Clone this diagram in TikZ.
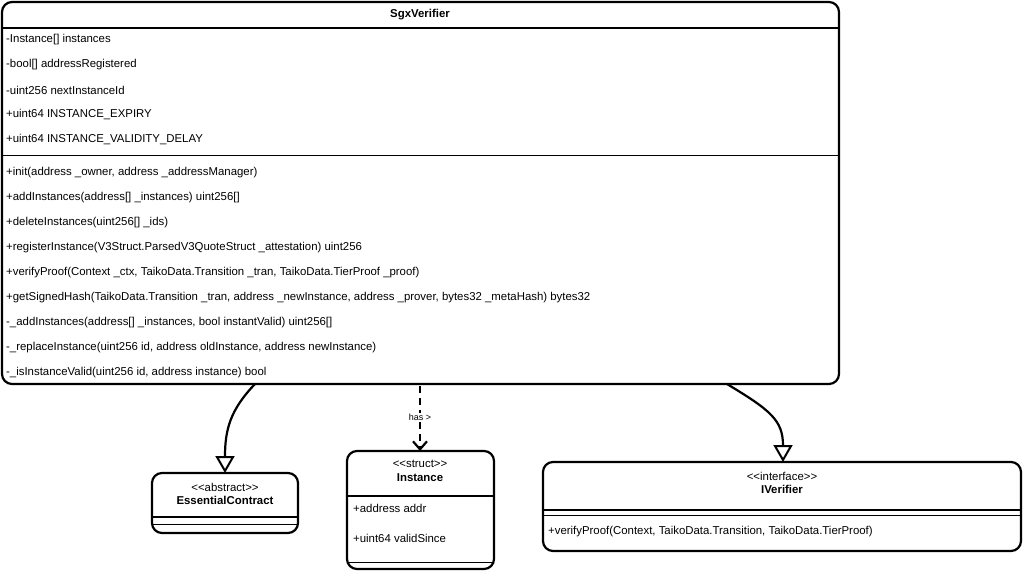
\documentclass[tikz,border=0pt]{standalone}
\usepackage{fontspec}
\setmainfont{Liberation Sans}[Ligatures=NoCommon]
\usetikzlibrary{arrows.meta}
\newcommand{\stL}{\mbox{<}\kern0pt\mbox{<}}
\newcommand{\stR}{\mbox{>}\kern0pt\mbox{>}}
\begin{document}
\begin{tikzpicture}[x=1pt,y=-1pt,
 box/.style={draw,line width=2.2pt,rounded corners=10pt},
 sep/.style={line width=2pt},
 thin/.style={line width=0.8pt},
 t/.style={anchor=west,inner sep=0pt,font=\fontsize{11.4}{13.5}\selectfont},
 c/.style={align=center,inner sep=0pt,font=\fontsize{11.4}{13.5}\selectfont},
 inh/.style={line width=2.2pt,-{Triangle[open,length=17pt,width=19pt,line width=2pt]}},
 dep/.style={line width=2.2pt,dashed,dash pattern=on 7pt off 5pt,-{Straight Barb[length=8pt,width=14pt,line width=2.2pt]}}]
\useasboundingbox (0,0) rectangle (1023,572);
% main
\draw[box] (2,2) rectangle (839,384);
\coordinate (m1) at (255,384);
\coordinate (m2) at (420,386);
\coordinate (m3) at (727,384);
\draw[sep] (2,28) -- (839,28);
\draw[thin] (2,155) -- (839,155);
\node[c,font=\fontsize{11.4}{13.5}\selectfont\bfseries] (title) at (420,15) {SgxVerifier};
\node[t] (a1) at (6,40) {-Instance[] instances};
\node[t] (a2) at (6,65) {-bool[] addressRegistered};
\node[t] (a3) at (6,90) {-uint256 nextInstanceId};
\node[t] (a4) at (6,115) {+uint64 INSTANCE\_EXPIRY};
\node[t] (a5) at (6,140) {+uint64 INSTANCE\_VALIDITY\_DELAY};
\node[t] (f1) at (6,173) {+init(address \_owner, address \_addressManager)};
\node[t] (f2) at (6,198) {+addInstances(address[] \_instances) uint256[]};
\node[t] (f3) at (6,223) {+deleteInstances(uint256[] \_ids)};
\node[t] (f4) at (6,248) {+registerInstance(V3Struct.ParsedV3QuoteStruct \_attestation) uint256};
\node[t] (f5) at (6,273) {+verifyProof(Context \_ctx, TaikoData.Transition \_tran, TaikoData.TierProof \_proof)};
\node[t] (f6) at (6,298) {+getSignedHash(TaikoData.Transition \_tran, address \_newInstance, address \_prover, bytes32 \_metaHash) bytes32};
\node[t] (f7) at (6,323) {-\_addInstances(address[] \_instances, bool instantValid) uint256[]};
\node[t] (f8) at (6,348) {-\_replaceInstance(uint256 id, address oldInstance, address newInstance)};
\node[t] (f9) at (6,373) {-\_isInstanceValid(uint256 id, address instance) bool};
% EssentialContract
\draw[box] (152,473) rectangle (298,533);
\coordinate (e) at (225,473);
\draw[sep] (152,517) -- (298,517);
\draw[thin] (152,524) -- (298,524);
\node[c] (ec) at (225,494) {\stL abstract\stR\\\bfseries EssentialContract};
% Instance
\draw[box] (347,451) rectangle (494,569);
\coordinate (i) at (420,451);
\draw[sep] (347,496) -- (494,496);
\draw[thin] (347,562) -- (494,562);
\node[c] (ic) at (420,471) {\stL struct\stR\\\bfseries Instance};
\node[t] (i1) at (353,508) {+address addr};
\node[t] (i2) at (353,538) {+uint64 validSince};
% IVerifier
\draw[box] (543,462) rectangle (1021,551);
\coordinate (v) at (783,462);
\draw[sep] (543,510) -- (1021,510);
\draw[thin] (543,515) -- (1021,515);
\node[c] (vc) at (782,483) {\stL interface\stR\\\bfseries IVerifier};
\node[t] (v1) at (548,532) {+verifyProof(Context, TaikoData.Transition, TaikoData.TierProof)};
% connectors
\draw[inh] (m1) .. controls (230,410) and (225,430) .. (e);
\draw[dep] (m2) -- (i);
\node[c,fill=white,inner sep=1pt,font=\fontsize{9}{10}\selectfont] (has) at (420,417) {has >};
\draw[inh] (m3) .. controls (770,410) and (783,420) .. (v);
\end{tikzpicture}
\end{document}
